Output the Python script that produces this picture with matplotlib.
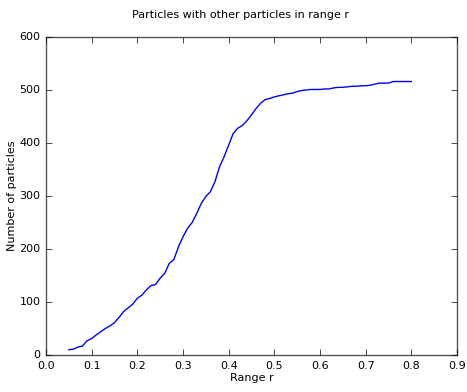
import matplotlib
matplotlib.use("Agg")
import matplotlib.pyplot as plt
import numpy as np

plt.style.use("classic")

# range r and count of particles with another particle within r
r = np.round(np.arange(0.05, 0.805, 0.01), 2)
counts = [10, 11, 15, 17, 27, 31, 38, 44, 50, 55,
          61, 71, 82, 89, 96, 107, 113, 123, 131, 133,
          145, 154, 173, 180, 204, 223, 239, 250, 267, 286,
          299, 308, 327, 355, 374, 396, 418, 428, 433, 442,
          453, 465, 475, 482, 484, 487, 489, 491, 493, 494,
          497, 499, 500, 501, 501, 501, 502, 502, 504, 505,
          505, 506, 507, 507, 508, 508, 509, 511, 513, 513,
          513, 516, 516, 516, 516, 516]

fig = plt.figure(figsize=(4.67, 3.92), dpi=100)
ax = fig.add_axes([0.0985, 0.0944, 0.88, 0.8112])
ax.plot(r, counts, color="b", lw=1)
ax.set_xlim(0, 0.9)
ax.set_ylim(0, 600)
ax.tick_params(labelsize=8, length=4)
ax.set_xlabel("Range r", fontsize=8, labelpad=2)
ax.set_ylabel("Number of particles", fontsize=8, labelpad=2)
for s in ax.spines.values():
    s.set_color("#555555")
fig.suptitle("Particles with other particles in range r", fontsize=8, x=0.514, y=0.975)
fig.savefig("out.png", dpi=100)
